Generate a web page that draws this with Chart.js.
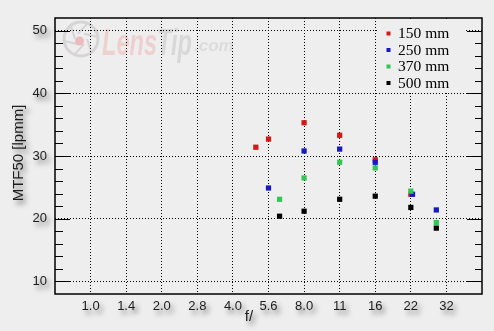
<!DOCTYPE html>
<html><head><meta charset="utf-8">
<script src="https://cdn.jsdelivr.net/npm/chart.js@4"></script>
<style>html,body{margin:0;padding:0;background:#eeeeee;}canvas{display:block}</style>
</head><body>
<canvas id="c" width="494" height="331"></canvas>
<script>
// ---- data ----
const stopLabels = ['1.0','1.4','2.0','2.8','4.0','5.6','8.0','11','16','22','32'];
const yTickLabels = [10, 20, 30, 40, 50];
const seriesNames = ['150 mm', '250 mm', '370 mm', '500 mm'];
const seriesColors = ['#d21818', '#1818c0', '#33c655', '#000000'];
const f150 = [5.0, 5.6, 8, 11, 16, 22];
const mtf150 = [31.4, 32.7, 35.3, 33.3, 29.4, 23.9];
const f250 = [5.6, 8, 11, 16, 23, 29];
const mtf250 = [24.9, 30.8, 31.1, 29.0, 23.9, 21.4];
const f370 = [6.3, 8, 11, 16, 22, 29];
const mtf370 = [23.1, 26.5, 29.0, 28.1, 24.4, 19.4];
const f500 = [6.3, 8, 11, 16, 22, 29];
const mtf500 = [20.4, 21.2, 23.1, 23.6, 21.8, 18.5];

// f-number -> position on the stop axis (nominal stops sit exactly on their tick)
function stopPos(f) {
  const i = stopLabels.findIndex(s => Math.abs(parseFloat(s) - f) < 1e-6);
  return i >= 0 ? i : 2 * Math.log2(f);
}
function pts(fs, vs) { return fs.map((f, i) => ({x: stopPos(f), y: vs[i]})); }
const allF = [f150, f250, f370, f500];
const allV = [mtf150, mtf250, mtf370, mtf500];

const datasets = seriesNames.map((n, i) => ({
  label: n,
  data: pts(allF[i], allV[i]),
  backgroundColor: seriesColors[i],
  borderColor: seriesColors[i],
  pointStyle: 'rect',
  pointRadius: 3.7,
  pointBorderWidth: 0,
  pointHoverRadius: 3.7,
  showLine: false,
  order: 4 - i
}));

const TXT = '#1c1c1c';
function shadowOn(ctx) {
  ctx.shadowColor = 'rgba(0,0,0,0.5)';
  ctx.shadowBlur = 5;
  ctx.shadowOffsetX = 3;
  ctx.shadowOffsetY = 4;
}

const deco = {
  id: 'deco',
  beforeDraw(chart) {
    const ctx = chart.ctx;
    ctx.save();
    ctx.fillStyle = '#eeeeee';
    ctx.fillRect(0, 0, chart.width, chart.height);
    // watermark
    const a = chart.chartArea;
    const cx = a.left + 26, cy = a.top + 21;
    ctx.strokeStyle = '#d6d4d4';
    ctx.lineWidth = 3;
    ctx.beginPath(); ctx.arc(cx, cy, 17, 0, Math.PI * 2); ctx.stroke();
    ctx.lineWidth = 2;
    for (let k = 0; k < 6; k++) {
      const ang = k * Math.PI / 3;
      ctx.beginPath();
      ctx.moveTo(cx + 6 * Math.cos(ang), cy + 6 * Math.sin(ang));
      ctx.lineTo(cx + 16 * Math.cos(ang + 0.9), cy + 16 * Math.sin(ang + 0.9));
      ctx.stroke();
    }
    ctx.fillStyle = '#ecbcbc';
    ctx.beginPath(); ctx.arc(cx - 1.5, cy + 2, 4.5, 0, Math.PI * 2); ctx.fill();
    ctx.font = 'italic bold 36px "Liberation Sans"';
    const wL = ctx.measureText('Lens').width, wT = ctx.measureText('Tip').width;
    const sc = 90 / (wL + wT);
    ctx.save();
    ctx.translate(a.left + 47, a.top + 37);
    ctx.scale(sc, 1);
    ctx.fillStyle = '#eed0d0';
    ctx.fillText('Lens', 0, 0);
    ctx.fillStyle = '#d8d8d8';
    ctx.fillText('Tip', wL, 0);
    ctx.restore();
    ctx.font = 'italic bold 17px "Liberation Sans"';
    ctx.fillStyle = '#dcdcdc';
    ctx.fillText('.com', a.left + 139, a.top + 33);
    ctx.restore();
  },
  afterDatasetsDraw(chart) {
    const ctx = chart.ctx, a = chart.chartArea;
    const ys = chart.scales.y, xs = chart.scales.x;
    ctx.save();
    // inner ticks
    ctx.strokeStyle = '#000';
    ctx.lineWidth = 1.2;
    ys.ticks.forEach(t => {
      if (t.value <= ys.min || t.value >= ys.max) return;
      const y = Math.round(ys.getPixelForValue(t.value)) + 0.5;
      const major = t.value % 10 === 0;
      ctx.beginPath();
      ctx.moveTo(a.left, y); ctx.lineTo(a.left + (major ? 15 : 8), y);
      ctx.moveTo(a.right, y); ctx.lineTo(a.right - (major ? 15 : 7), y);
      ctx.stroke();
    });
    // frame
    ctx.lineWidth = 1.5;
    ctx.strokeRect(a.left, a.top, a.right - a.left, a.bottom - a.top);
    // legend box
    ctx.fillStyle = '#eeeeee';
    ctx.fillRect(379, a.top + 1, 87, 73);
    ctx.font = '15.5px "Liberation Serif"';
    ctx.textBaseline = 'middle';
    chart.data.datasets.forEach((d, i) => {
      const y = 33.5 + i * 16.5;
      ctx.fillStyle = d.backgroundColor;
      ctx.fillRect(386.5, y - 2, 4, 4);
      ctx.fillStyle = '#000';
      ctx.fillText(d.label, 398, y + 0.5);
    });
    // axis labels with shadow
    shadowOn(ctx);
    ctx.fillStyle = TXT;
    ctx.font = '13px "Liberation Sans"';
    ctx.textAlign = 'right';
    ctx.textBaseline = 'middle';
    yTickLabels.forEach(v => ctx.fillText(String(v), 47, ys.getPixelForValue(v)));
    ctx.textAlign = 'center';
    stopLabels.forEach((s, i) => ctx.fillText(s, xs.getPixelForValue(i), 306.5));
    ctx.font = '15px "Liberation Sans"';
    ctx.fillText('f/', 249, 317);
    ctx.translate(18.5, 153);
    ctx.rotate(-Math.PI / 2);
    ctx.fillText('MTF50 [lpmm]', 0, 0);
    ctx.restore();
  }
};

new Chart(document.getElementById('c'), {
  type: 'scatter',
  data: {datasets},
  options: {
    responsive: false,
    animation: false,
    devicePixelRatio: 1,
    layout: {padding: {top: 18, right: 12, left: 0, bottom: 0}},
    plugins: {legend: {display: false}, tooltip: {enabled: false}},
    scales: {
      x: {
        type: 'linear', min: -1, max: 11,
        ticks: {stepSize: 1, display: false},
        grid: {drawTicks: false, color: c => (c.tick && c.tick.value >= 0 && c.tick.value <= 10) ? '#000' : 'rgba(0,0,0,0)', lineWidth: 1},
        border: {display: false, dash: [1, 2]},
        afterFit: s => { s.height = 37; }
      },
      y: {
        type: 'linear', min: 8, max: 52,
        ticks: {stepSize: 2, display: false},
        grid: {drawTicks: false, color: c => (c.tick && c.tick.value % 10 === 0) ? '#000' : 'rgba(0,0,0,0)', lineWidth: 1},
        border: {display: false, dash: [1, 2]},
        afterFit: s => { s.width = 55; }
      }
    }
  },
  plugins: [deco]
});
</script>
</body></html>
